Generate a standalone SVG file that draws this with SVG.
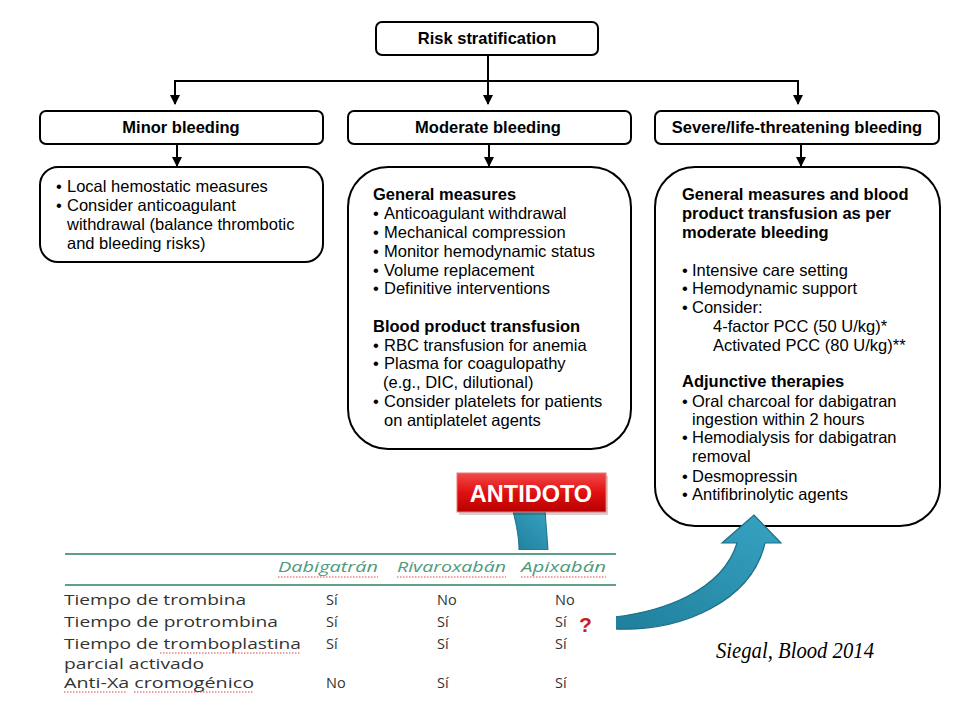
<svg xmlns="http://www.w3.org/2000/svg" width="960" height="720" viewBox="0 0 960 720">
<defs>
<style>
.box{fill:#fff;stroke:#000;stroke-width:2}
.t{font-family:"Liberation Sans",Arial,sans-serif;font-size:16.5px;fill:#000}
.b{font-weight:bold}
.c{text-anchor:middle}
.tb{font-family:"Open Sans","Noto Sans",sans-serif;font-size:14.5px;fill:#333}
.hd{font-family:"Open Sans","Noto Sans",sans-serif;font-size:14.5px;fill:#4f9a7c;font-style:italic}
.gl{stroke:#5f9f86;stroke-width:2}
.sq{stroke:#e04040;stroke-width:1;stroke-dasharray:1.5 1.5;fill:none}
.ln{stroke:#000;stroke-width:2;fill:none}
</style>
<marker id="ah" viewBox="0 0 10 10" refX="9" refY="5" markerWidth="5" markerHeight="5" orient="auto" markerUnits="strokeWidth">
<path d="M0,0 L10,5 L0,10 Z" fill="#000"/>
</marker>
<linearGradient id="red" x1="0" y1="0" x2="0" y2="1">
<stop offset="0" stop-color="#f24a4a"/>
<stop offset="0.5" stop-color="#e01010"/>
<stop offset="1" stop-color="#b80000"/>
</linearGradient>
<linearGradient id="teal" x1="0" y1="1" x2="1" y2="0">
<stop offset="0" stop-color="#1f7f9c"/>
<stop offset="1" stop-color="#37a3c2"/>
</linearGradient>
</defs>
<rect width="960" height="720" fill="#fff"/>

<g id="connectors">
<line class="ln" x1="488" y1="55" x2="488" y2="81"/>
<line class="ln" x1="175" y1="81" x2="798" y2="81"/>
<line class="ln" x1="175" y1="80" x2="175" y2="104" marker-end="url(#ah)"/>
<line class="ln" x1="488" y1="81" x2="488" y2="104" marker-end="url(#ah)"/>
<line class="ln" x1="798" y1="80" x2="798" y2="104" marker-end="url(#ah)"/>
<line class="ln" x1="177" y1="144" x2="177" y2="166" marker-end="url(#ah)"/>
<line class="ln" x1="489" y1="144" x2="489" y2="166" marker-end="url(#ah)"/>
<line class="ln" x1="801" y1="144" x2="801" y2="166" marker-end="url(#ah)"/>
</g>

<g id="risk">
<rect class="box" x="376" y="22" width="222" height="33" rx="6"/>
<text class="t b c" x="487" y="44">Risk stratification</text>
</g>

<g id="minor">
<rect class="box" x="40" y="111" width="283" height="33" rx="6"/>
<text class="t b c" x="181" y="133">Minor bleeding</text>
</g>
<g id="moderate">
<rect class="box" x="348" y="111" width="283" height="33" rx="6"/>
<text class="t b c" x="488" y="133">Moderate bleeding</text>
</g>
<g id="severe">
<rect class="box" x="655" y="111" width="284" height="33" rx="6"/>
<text class="t b c" x="797" y="133">Severe/life-threatening bleeding</text>
</g>

<g id="minor-detail">
<rect class="box" x="40" y="167" width="283" height="95" rx="18"/>
<text class="t" x="56" y="192">•</text><text class="t" x="67" y="192">Local hemostatic measures</text>
<text class="t" x="56" y="211">•</text><text class="t" x="67" y="211">Consider anticoagulant</text>
<text class="t" x="67" y="230">withdrawal (balance thrombotic</text>
<text class="t" x="67" y="249">and bleeding risks)</text>
</g>

<g id="moderate-detail">
<rect class="box" x="348" y="167" width="283" height="282" rx="40"/>
<text class="t b" x="373" y="200">General measures</text>
<text class="t" x="373" y="219">•</text><text class="t" x="384" y="219">Anticoagulant withdrawal</text>
<text class="t" x="373" y="238">•</text><text class="t" x="384" y="238">Mechanical compression</text>
<text class="t" x="373" y="257">•</text><text class="t" x="384" y="257">Monitor hemodynamic status</text>
<text class="t" x="373" y="276">•</text><text class="t" x="384" y="276">Volume replacement</text>
<text class="t" x="373" y="294">•</text><text class="t" x="384" y="294">Definitive interventions</text>
<text class="t b" x="373" y="332">Blood product transfusion</text>
<text class="t" x="373" y="351">•</text><text class="t" x="384" y="351">RBC transfusion for anemia</text>
<text class="t" x="373" y="369">•</text><text class="t" x="384" y="369">Plasma for coagulopathy</text>
<text class="t" x="383" y="388">(e.g., DIC, dilutional)</text>
<text class="t" x="373" y="407">•</text><text class="t" x="384" y="407">Consider platelets for patients</text>
<text class="t" x="384" y="426">on antiplatelet agents</text>
</g>

<g id="severe-detail">
<rect class="box" x="655" y="167" width="285" height="359" rx="40"/>
<text class="t b" x="682" y="200">General measures and blood</text>
<text class="t b" x="682" y="219">product transfusion as per</text>
<text class="t b" x="682" y="238">moderate bleeding</text>
<text class="t" x="682" y="276">•</text><text class="t" x="692" y="276">Intensive care setting</text>
<text class="t" x="682" y="294">•</text><text class="t" x="692" y="294">Hemodynamic support</text>
<text class="t" x="682" y="313">•</text><text class="t" x="692" y="313">Consider:</text>
<text class="t" x="713" y="332">4-factor PCC (50 U/kg)*</text>
<text class="t" x="713" y="351">Activated PCC (80 U/kg)**</text>
<text class="t b" x="682" y="387">Adjunctive therapies</text>
<text class="t" x="682" y="407">•</text><text class="t" x="692" y="407">Oral charcoal for dabigatran</text>
<text class="t" x="692" y="425">ingestion within 2 hours</text>
<text class="t" x="682" y="443">•</text><text class="t" x="692" y="443">Hemodialysis for dabigatran</text>
<text class="t" x="692" y="462">removal</text>
<text class="t" x="682" y="482">•</text><text class="t" x="692" y="482">Desmopressin</text>
<text class="t" x="682" y="500">•</text><text class="t" x="692" y="500">Antifibrinolytic agents</text>
</g>

<g id="teal-arrow">
<path d="M513,511 C517,527 519,539 519,550 L548,550 C547,536 546,523 545,511 Z" fill="url(#teal)" stroke="#1d6e86" stroke-width="1"/>
<path d="M614,617 C660,612 722,592 737,543 L722,543 L754,515 L781,543 L765,543 C752,600 684,632 614,629 Z" fill="url(#teal)" stroke="#1d6e86" stroke-width="1.2"/>
</g>

<g id="antidoto">
<rect x="459" y="476" width="149" height="39" fill="#000" opacity="0.18"/>
<rect x="457" y="473" width="149" height="39" fill="url(#red)" stroke="#e87a7a" stroke-width="1"/>
<text x="531" y="502" font-family="'Liberation Sans',Arial,sans-serif" font-size="23.5" font-weight="bold" fill="#fff" text-anchor="middle">ANTIDOTO</text>
</g>

<g id="table">
<rect x="56" y="550" width="560" height="150" fill="#fff"/>
<line class="gl" x1="65" y1="554" x2="616" y2="554"/>
<line class="gl" x1="65" y1="585" x2="616" y2="585"/>
<text class="hd" x="278" y="572" textLength="100" lengthAdjust="spacingAndGlyphs">Dabigatrán</text>
<text class="hd" x="397" y="572" textLength="109" lengthAdjust="spacingAndGlyphs">Rivaroxabán</text>
<text class="hd" x="521" y="572" textLength="85" lengthAdjust="spacingAndGlyphs">Apixabán</text>
<path class="sq" d="M278,577 H378 M397,577 H506 M521,577 H606"/>
<text class="tb" x="64" y="605" textLength="182" lengthAdjust="spacingAndGlyphs">Tiempo de trombina</text>
<text class="tb" x="326" y="605">Sí</text><text class="tb" x="437" y="605">No</text><text class="tb" x="555" y="605">No</text>
<text class="tb" x="64" y="627" textLength="214" lengthAdjust="spacingAndGlyphs">Tiempo de protrombina</text>
<text class="tb" x="326" y="627">Sí</text><text class="tb" x="437" y="627">Sí</text><text class="tb" x="555" y="627">Sí</text>
<text x="579" y="632" font-family="'Liberation Sans',Arial,sans-serif" font-size="21" font-weight="bold" fill="#c81e1e">?</text>
<text class="tb" x="64" y="649" textLength="237" lengthAdjust="spacingAndGlyphs">Tiempo de tromboplastina</text>
<text class="tb" x="326" y="649">Sí</text><text class="tb" x="437" y="649">Sí</text><text class="tb" x="555" y="649">Sí</text>
<text class="tb" x="64" y="669" textLength="140" lengthAdjust="spacingAndGlyphs">parcial activado</text>
<text class="tb" x="64" y="688" textLength="190" lengthAdjust="spacingAndGlyphs">Anti-Xa cromogénico</text>
<text class="tb" x="326" y="688">No</text><text class="tb" x="437" y="688">Sí</text><text class="tb" x="555" y="688">Sí</text>
<path class="sq" d="M160,653 H301 M64,692 H127 M134,692 H254"/>
</g>

<g id="citation">
<text x="716" y="658" font-family="'Liberation Serif','DejaVu Serif',serif" font-style="italic" font-size="23" fill="#000" textLength="158" lengthAdjust="spacingAndGlyphs">Siegal, Blood 2014</text>
</g>
</svg>
